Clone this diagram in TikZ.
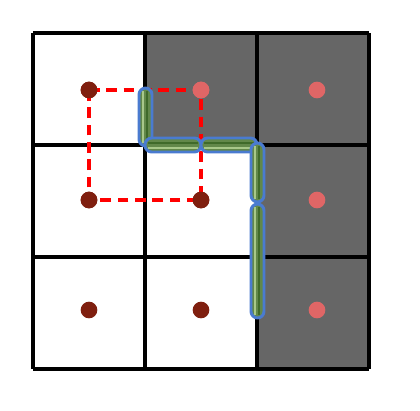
\documentclass[tikz,border=0pt]{standalone}
\usetikzlibrary{calc}
\definecolor{darkcell}{HTML}{666666}
\definecolor{dotdark}{HTML}{7F1F0F}
\definecolor{dotlight}{HTML}{E06666}
\definecolor{pillblue}{HTML}{4A7BD0}
\definecolor{pillgreen}{HTML}{62884A}
\definecolor{pilllight}{HTML}{A8C88A}
\definecolor{pilldark}{HTML}{3F6A2A}
\tikzset{
  gridline/.style={line width=2.3pt, black},
  dotnode/.style={circle, inner sep=0pt, minimum size=12.5pt, draw=none},
  dd/.style={dotnode, fill=dotdark},
  dl/.style={dotnode, fill=dotlight},
  dashsq/.style={red, line width=2.5pt, dash pattern=on 8pt off 5pt},
  pill/.style={draw=pillblue, line width=2.2pt, fill=pillgreen, rounded corners=5pt},
}
\newcommand{\vpill}[3]{% x, y1, y2
  \draw[pill] (#1-6.5,#2) rectangle (#1+6.5,#3);
  \draw[pilllight, line width=2pt] (#1-2.5,#2+3) -- (#1-2.5,#3-3);
  \draw[pilldark, line width=1.5pt] (#1+1.5,#2+3) -- (#1+1.5,#3-3);
}
\newcommand{\hpill}[3]{% y, x1, x2
  \draw[pill] (#2,#1-7) rectangle (#3,#1+7);
  \draw[pilllight, line width=2pt] (#2+3,#1+3) -- (#3-3,#1+3);
  \draw[pilldark, line width=1.5pt] (#2+3,#1-2) -- (#3-3,#1-2);
}
\begin{document}
\begin{tikzpicture}[x=0.75pt, y=-0.75pt]
\useasboundingbox (0,0) rectangle (420,410);
\fill[white] (0,0) rectangle (420,410);
% dark cells
\fill[darkcell] (145,33) rectangle (369,145);
\fill[darkcell] (257,145) rectangle (369,369);
% grid
\foreach \v in {33,145,257,369} {
  \draw[gridline] (\v,33) -- (\v,369);
  \draw[gridline] (33,\v) -- (369,\v);
}
% dots
\node[dd] (a00) at (89,90) {};
\node[dl] (a01) at (201,90) {};
\node[dl] (a02) at (317,90) {};
\node[dd] (a10) at (89,200) {};
\node[dd] (a11) at (201,200) {};
\node[dl] (a12) at (317,200) {};
\node[dd] (a20) at (89,310) {};
\node[dd] (a21) at (201,310) {};
\node[dl] (a22) at (317,310) {};
% dashed square
\draw[dashsq] (a00.center) -- (a01.center) -- (a11.center) -- (a10.center) -- cycle;
% dots again on top
\node[dd] at (a00) {};
\node[dl] at (a01) {};
\node[dd] at (a10) {};
\node[dd] at (a11) {};
% pills
\vpill{145.5}{88}{146}
\hpill{145}{145}{201}
\hpill{145}{201}{257}
\vpill{257.5}{143}{202}
\vpill{257.5}{204}{318}
\end{tikzpicture}
\end{document}
